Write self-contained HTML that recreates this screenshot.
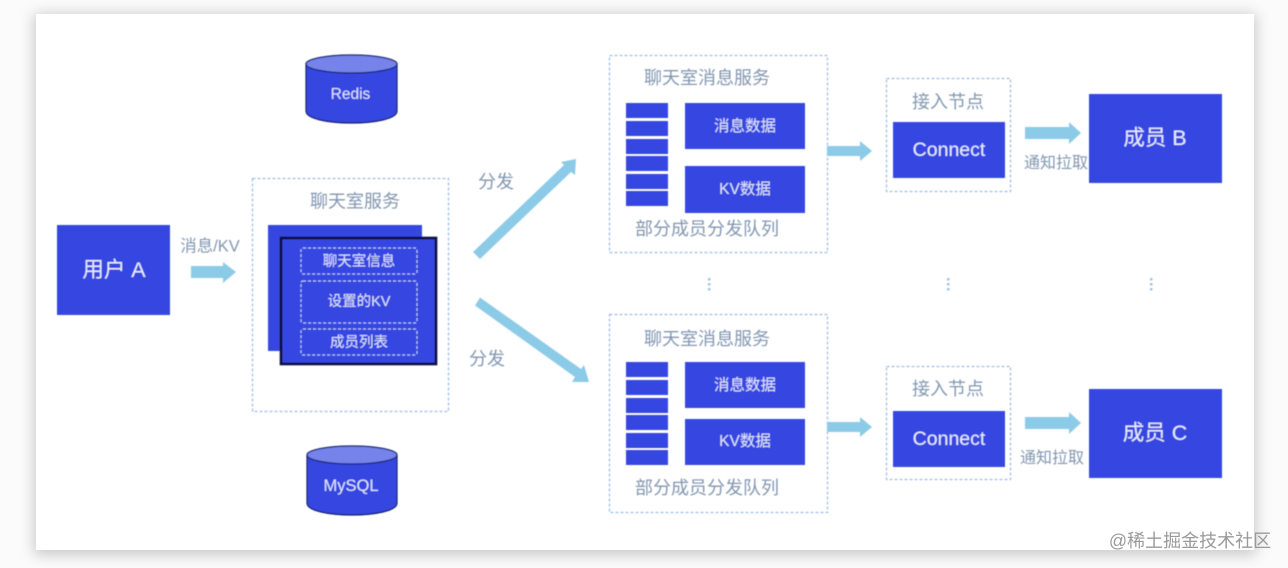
<!DOCTYPE html>
<html><head><meta charset="utf-8">
<style>
html,body{margin:0;padding:0;background:#fbfbfb;width:1288px;height:568px;overflow:hidden}
svg{display:block}
text{font-family:"Liberation Sans","Noto Sans CJK SC",sans-serif;text-anchor:middle}
.g{fill:#8296b0;font-size:18px}
.w{fill:#dfe4fb;font-size:14.500px}
.m{fill:#dfe4fb;font-size:15.500px}
.W{fill:#e8ebfc;font-size:21.500px}
.n{fill:#8296b0;font-size:16px}
.b{fill:#3546e0}
.d{fill:none;stroke:#a0bee9;stroke-width:1.3;stroke-dasharray:3 2}
.i{fill:none;stroke:#b9c3f3;stroke-width:1.2;stroke-dasharray:3 2}
.c{fill:#8ccbe8}
</style></head><body>
<svg width="1288" height="568" viewBox="0 0 1288 568" xmlns="http://www.w3.org/2000/svg">
<defs>
<filter id="s" x="-5%" y="-5%" width="110%" height="112%"><feGaussianBlur stdDeviation="7"/></filter>
<filter id="t" x="-5%" y="-5%" width="110%" height="110%"><feGaussianBlur stdDeviation="0.6"/></filter>
</defs>
<rect x="34" y="14" width="1222" height="541" fill="#777" opacity=".38" filter="url(#s)"/>
<rect x="36" y="14" width="1218" height="536" fill="#fff"/>
<g filter="url(#t)">
<!-- user A -->
<rect class="b" x="57" y="225" width="113" height="90"/>
<text class="W" x="114" y="277">用户  A</text>
<text class="n" x="210" y="251.500" style="font-size:16.500px">消息/KV</text>
<polygon class="c" points="191,266 223,266 223,262 236,272 223,283 223,278 191,278"/>

<!-- Redis -->
<path d="M306,64 V111 C306,127 397,127 397,111 V64 Z" fill="#3546e0" stroke="#15206e" stroke-width="1.2"/>
<ellipse cx="351.500" cy="64" rx="45.500" ry="9" fill="#7483ea" stroke="#15206e" stroke-width="1.2"/>
<text x="350.500" y="99" fill="#dfe4fb" style="font-size:15.500px">Redis</text>
<!-- MySQL -->
<path d="M307,455 V503 C307,519 397,519 397,503 V455 Z" fill="#3546e0" stroke="#15206e" stroke-width="1.2"/>
<ellipse cx="352" cy="455" rx="45" ry="9" fill="#7483ea" stroke="#15206e" stroke-width="1.2"/>
<text x="351" y="491" fill="#dfe4fb" style="font-size:16.500px">MySQL</text>

<!-- chat service -->
<rect class="d" x="252.500" y="178.500" width="196" height="233"/>
<text class="g" x="355" y="207.500">聊天室服务</text>
<rect class="b" x="268" y="225" width="154" height="126"/>
<rect class="b" x="281" y="238" width="155" height="126" stroke="#0a0f3c" stroke-width="2.600"/>
<rect class="i" x="301" y="248" width="116" height="26" rx="2"/>
<rect class="i" x="301" y="281" width="116" height="42" rx="2"/>
<rect class="i" x="301" y="329" width="116" height="26" rx="2"/>
<text class="w" x="359" y="266">聊天室信息</text>
<text class="w" x="359" y="306">设置的KV</text>
<text class="w" x="359" y="347">成员列表</text>

<!-- distribute arrows -->
<polygon class="c" points="473,252 564,165 561,162 576,159 575,175 571,172 480,259"/>
<polygon class="c" points="480,297.500 581,369 584,365 589,382 572,382 575,377 475,305.500"/>
<text class="g" x="496" y="188">分发</text>
<text class="g" x="487" y="365">分发</text>

<!-- top message service -->
<rect class="d" x="609.500" y="55.500" width="218" height="197"/>
<text class="g" x="707" y="84">聊天室消息服务</text>
<g class="b">
<rect x="626" y="103" width="42" height="15"/><rect x="626" y="121" width="42" height="15"/>
<rect x="626" y="139" width="42" height="15"/><rect x="626" y="156" width="42" height="15"/>
<rect x="626" y="174" width="42" height="15"/><rect x="626" y="191" width="42" height="15"/>
<rect x="685" y="103" width="120" height="46"/><rect x="685" y="166" width="120" height="47"/>
</g>
<text class="m" x="745" y="131">消息数据</text>
<text class="m" x="745" y="194">KV数据</text>
<text class="g" x="707" y="235">部分成员分发队列</text>

<!-- bottom message service -->
<rect class="d" x="609.500" y="314.500" width="218" height="198"/>
<text class="g" x="707" y="345">聊天室消息服务</text>
<g class="b">
<rect x="626" y="362" width="42" height="15"/><rect x="626" y="380" width="42" height="15"/>
<rect x="626" y="398" width="42" height="15"/><rect x="626" y="415" width="42" height="15"/>
<rect x="626" y="433" width="42" height="15"/><rect x="626" y="450" width="42" height="15"/>
<rect x="685" y="362" width="120" height="46"/><rect x="685" y="419" width="120" height="46"/>
</g>
<text class="m" x="745" y="390">消息数据</text>
<text class="m" x="745" y="446">KV数据</text>
<text class="g" x="707" y="494">部分成员分发队列</text>

<!-- arrows to connect -->
<polygon class="c" points="827,146 860,146 860,141 872,151 860,161 860,156 827,156"/>
<polygon class="c" points="827,422 860,422 860,417 872,427 860,437 860,432 827,432"/>

<!-- connect nodes -->
<rect class="d" x="886.500" y="78.500" width="124" height="113"/>
<text class="g" x="948" y="108">接入节点</text>
<rect class="b" x="893" y="122" width="112" height="56"/>
<text x="949" y="156" fill="#e8ebfc" style="font-size:19.500px">Connect</text>
<rect class="d" x="886.500" y="366.500" width="124" height="113"/>
<text class="g" x="948" y="395">接入节点</text>
<rect class="b" x="893" y="411" width="112" height="56"/>
<text x="949" y="445" fill="#e8ebfc" style="font-size:19.500px">Connect</text>

<!-- arrows to members -->
<polygon class="c" points="1025,127 1069,127 1069,122 1081,133 1069,144 1069,139 1025,139"/>
<polygon class="c" points="1025,417 1069,417 1069,412 1081,423 1069,434 1069,429 1025,429"/>
<text class="n" x="1056" y="168">通知拉取</text>
<text class="n" x="1052" y="463">通知拉取</text>

<!-- members -->
<rect class="b" x="1089" y="94" width="133" height="89"/>
<text class="W" x="1155" y="145">成员  B</text>
<rect class="b" x="1089" y="389" width="133" height="89"/>
<text class="W" x="1155" y="440">成员  C</text>

<!-- ellipses -->
<g fill="#9fc4e6">
<rect x="708" y="278" width="2.500" height="2.500"/><rect x="708" y="283" width="2.500" height="2.500"/><rect x="708" y="288" width="2.500" height="2.500"/>
<rect x="947" y="278" width="2.500" height="2.500"/><rect x="947" y="283" width="2.500" height="2.500"/><rect x="947" y="288" width="2.500" height="2.500"/>
<rect x="1150" y="278" width="2.500" height="2.500"/><rect x="1150" y="283" width="2.500" height="2.500"/><rect x="1150" y="288" width="2.500" height="2.500"/>
</g>
</g>
<!-- watermark -->
<text x="1190" y="547" fill="#9a9a9a" style="font-size:18px">@稀土掘金技术社区</text>
</svg>
</body></html>
